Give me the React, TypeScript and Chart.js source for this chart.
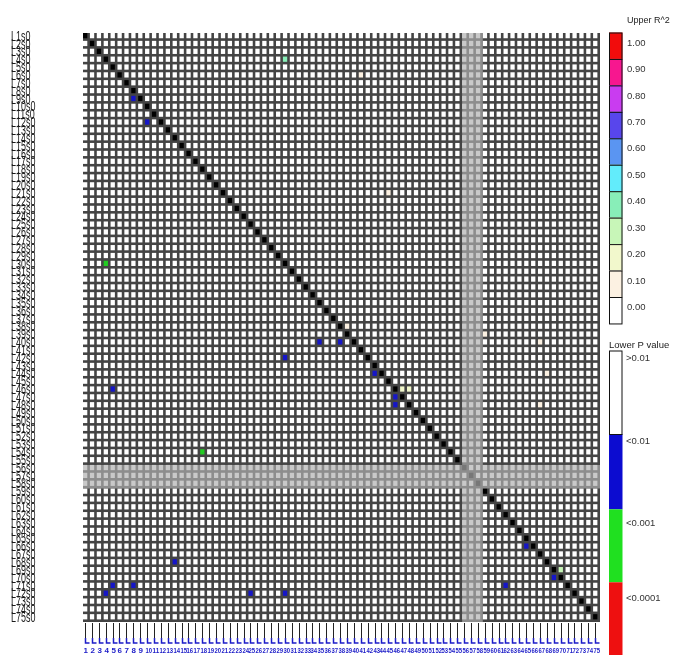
import React, { useEffect, useRef } from "react";
import { Chart, registerables } from "chart.js";
Chart.register(...registerables);

// ---- data ----
const N_MARKERS = 75;
const markerLabels: string[] = Array.from({ length: N_MARKERS }, (_, i) => `L${i + 1}s0`);
const excludedMarkers = [55, 56, 57]; // 0-based indices of greyed markers

// lower triangle: P value class (1: <0.01, 2: <0.001, 3: <0.0001)
const pRows = [8, 11, 29, 39, 39, 41, 43, 45, 46, 47, 53, 65, 67, 69, 70, 70, 70, 71, 71, 71];
const pCols = [7, 9, 3, 34, 37, 29, 42, 4, 45, 45, 17, 64, 13, 68, 4, 7, 61, 3, 24, 29];
const pClass = [1, 1, 2, 1, 1, 1, 1, 1, 1, 1, 2, 1, 1, 1, 1, 1, 1, 1, 1, 1];

// upper triangle: R^2 values (non-zero ones)
const r2Rows = [3, 68, 45, 45, 37, 39, 43, 47, 38, 20, 5];
const r2Cols = [29, 69, 46, 47, 38, 66, 67, 66, 58, 44, 40];
const r2Vals = [0.4, 0.3, 0.2, 0.2, 0.1, 0.1, 0.1, 0.1, 0.1, 0.1, 0.1];

// legends
const r2TickLabels = ["1.00", "0.90", "0.80", "0.70", "0.60", "0.50", "0.40", "0.30", "0.20", "0.10", "0.00"];
const r2Colors = ["#f20c0c", "#f7178f", "#c93cf0", "#5846ec", "#5a95f2", "#62ecfb", "#88eeb8", "#c8f6b8", "#f2f8cc", "#fcf1e2", "#ffffff"];
const pLabels = [">0.01", "<0.01", "<0.001", "<0.0001"];
const pColors = ["#ffffff", "#0c0cd0", "#20e020", "#ee1010"];
const pCellColors = ["#ffffff", "#1616c8", "#22cc22", "#e01010"];

const GRID_COLOR = "#444444";
const GAP = 2.6;

function r2Color(v: number): string {
  const idx = Math.max(0, Math.min(10, Math.round(v * 10)));
  return r2Colors[10 - idx];
}

const ldPlugin = {
  id: "ldMatrix",
  beforeDatasetsDraw(chart: any) {
    const { ctx } = chart;
    const xs = chart.scales.x;
    const ys = chart.scales.y;
    const px = (c: number) => xs.getPixelForValue(c);
    const py = (r: number) => ys.getPixelForValue(r);
    const left = px(0), right = px(N_MARKERS), top = py(0), bottom = py(N_MARKERS);
    ctx.save();
    ctx.fillStyle = GRID_COLOR;
    ctx.fillRect(left, top, right - left, bottom - top);

    const cellColor: Record<string, string> = {};
    pRows.forEach((r, i) => { cellColor[`${r},${pCols[i]}`] = pCellColors[pClass[i]]; });
    r2Rows.forEach((r, i) => { cellColor[`${r},${r2Cols[i]}`] = r2Color(r2Vals[i]); });

    for (let r = 0; r < N_MARKERS; r++) {
      for (let c = 0; c < N_MARKERS; c++) {
        let col = "#ffffff";
        if (r === c) col = "#000000";
        else if (cellColor[`${r},${c}`]) col = cellColor[`${r},${c}`];
        ctx.fillStyle = col;
        ctx.fillRect(px(c), py(r), px(c + 1) - px(c) - GAP, py(r + 1) - py(r) - GAP);
      }
    }

    // grey bands for excluded markers
    ctx.beginPath();
    excludedMarkers.forEach((m) => {
      ctx.rect(left, py(m), right - left, py(m + 1) - py(m));
      ctx.rect(px(m), top, px(m + 1) - px(m), bottom - top);
    });
    ctx.fillStyle = "rgba(176,176,176,0.68)";
    ctx.fill("nonzero");

    // row labels
    ctx.fillStyle = "#1a1a1a";
    ctx.font = '14px "Liberation Sans", Arial, sans-serif';
    ctx.textBaseline = "middle";
    ctx.textAlign = "left";
    markerLabels.forEach((lab, r) => {
      const cy = (py(r) + py(r + 1)) / 2;
      ctx.save();
      ctx.translate(11, cy);
      ctx.scale(0.64, 1);
      ctx.fillText(lab, 0, 0);
      ctx.restore();
    });

    // column connectors and numbers
    for (let c = 0; c < N_MARKERS; c++) {
      const x = Math.round(px(c)) + 2.5;
      ctx.strokeStyle = "#222222";
      ctx.lineWidth = 1;
      ctx.beginPath();
      ctx.moveTo(x, bottom + 1);
      ctx.lineTo(x, bottom + 16);
      ctx.stroke();
      ctx.strokeStyle = "#1c1cc8";
      ctx.lineWidth = 1.5;
      ctx.beginPath();
      ctx.moveTo(x, bottom + 16);
      ctx.lineTo(x, bottom + 21);
      ctx.lineTo(x + 4, bottom + 21);
      ctx.stroke();
      const t = String(c + 1);
      ctx.fillStyle = "#1c1cc8";
      ctx.font = 'bold 8px "Liberation Sans", Arial, sans-serif';
      const w = ctx.measureText(t).width;
      const s = Math.min(1, 6.6 / w);
      ctx.save();
      ctx.translate(x - 2, bottom + 29);
      ctx.scale(s, 1);
      ctx.fillText(t, 0, 0);
      ctx.restore();
    }

    // R^2 legend
    const lx = 609, lw = 13.5, lTop = 32.5, segH = 26.45;
    ctx.font = '9px "Liberation Sans", Arial, sans-serif';
    ctx.fillStyle = "#222";
    ctx.fillText("Upper R^2", 627, 20.5);
    ctx.font = '9.5px "Liberation Sans", Arial, sans-serif';
    r2Colors.forEach((colr, i) => {
      ctx.fillStyle = colr;
      ctx.fillRect(lx, lTop + i * segH, lw, segH);
      ctx.strokeStyle = "#111";
      ctx.lineWidth = 1;
      ctx.strokeRect(lx + 0.5, lTop + i * segH + 0.5, lw - 1, segH);
      ctx.fillStyle = "#333";
      ctx.fillText(r2TickLabels[i], 627, lTop + i * segH + 10.5);
    });

    // P legend
    const pTop = 350.5;
    const pBounds = [350.5, 434, 509.3, 582.3, 655];
    const pLabY = [358.3, 441.7, 523.3, 598.3];
    ctx.fillStyle = "#222";
    ctx.fillText("Lower P value", 609, 345.5);
    pColors.forEach((colr, i) => {
      ctx.fillStyle = colr;
      ctx.fillRect(lx, pBounds[i], lw, pBounds[i + 1] - pBounds[i]);
      ctx.fillStyle = "#333";
      ctx.fillText(pLabels[i], 626, pLabY[i]);
    });
    ctx.strokeStyle = "#111";
    ctx.lineWidth = 1;
    ctx.strokeRect(lx + 0.5, pTop + 0.5, lw - 1, pBounds[1] - pTop);
    ctx.restore();
  },
};

export default function App() {
  const ref = useRef<HTMLCanvasElement | null>(null);
  useEffect(() => {
    if (!ref.current) return;
    const chart = new Chart(ref.current, {
      type: "scatter",
      data: {
        datasets: [
          {
            label: "P cells",
            data: pRows.map((r, i) => ({ x: pCols[i] + 0.5, y: r + 0.5 })),
            pointRadius: 0,
          },
        ],
      },
      options: {
        responsive: false,
        maintainAspectRatio: false,
        animation: false,
        devicePixelRatio: 1,
        layout: { padding: { left: 83, top: 33, right: 74, bottom: 33 } },
        scales: {
          x: { type: "linear", min: 0, max: N_MARKERS, display: false },
          y: { type: "linear", min: 0, max: N_MARKERS, reverse: true, display: false },
        },
        plugins: { legend: { display: false }, tooltip: { enabled: false } },
      },
      plugins: [ldPlugin],
    });
    return () => chart.destroy();
  }, []);
  return (
    <div style={{ position: "absolute", left: 0, top: 0, width: 674, height: 655, background: "#fff" }}>
      <canvas ref={ref} width={674} height={655} />
    </div>
  );
}
